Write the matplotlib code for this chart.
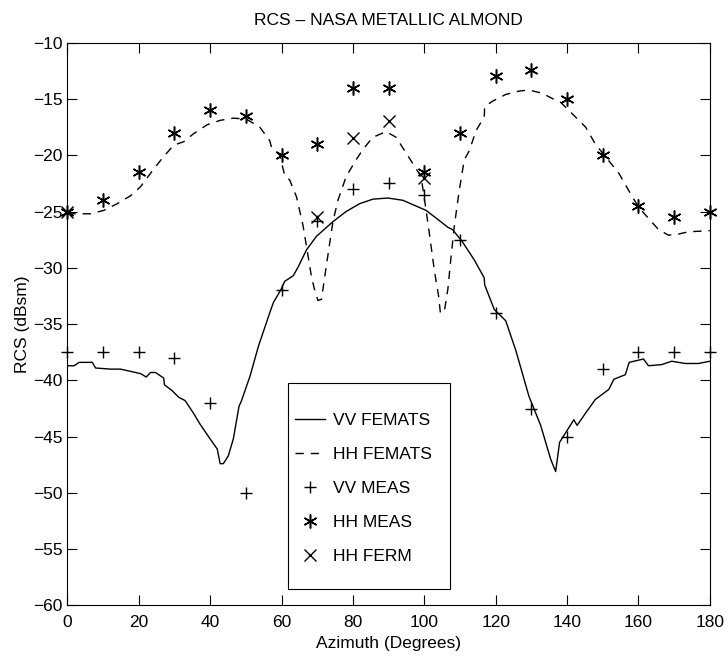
import matplotlib
matplotlib.use("Agg")
import matplotlib.pyplot as plt
from matplotlib.patches import Rectangle

plt.rcParams['font.family'] = ['Liberation Sans', 'DejaVu Sans']

# VV FEMATS (solid curve)
vv_fem_az = [0, 1.9, 3.3, 7, 7.9, 12.1, 14.9, 20.5, 22.1, 23.3, 24.7, 27, 27.2, 29.3,
             31.2, 33, 35.3, 37.2, 40, 42, 42.8, 43.7, 45.1, 46.5, 48.1, 48.8, 51.2,
             53.5, 56.7, 57.7, 59.9, 60.9, 63.3, 64.7, 67, 69.8, 74.4, 78.1, 81.9,
             85.6, 89.8, 94, 100.5, 104.2, 106.6, 107.9, 110.7, 114, 116.8, 116.9,
             119.6, 122.8, 125.6, 129.3, 132.6, 135.4, 136.8, 137.9, 140.5, 141.9,
             142.8, 145.2, 147.9, 151.7, 153.1, 156.3, 157.4, 161.4, 162.8, 166.5,
             169.3, 173.1, 176.8, 180]
vv_fem_rcs = [-38.7, -38.7, -38.4, -38.4, -38.9, -39.0, -39.0, -39.4, -39.7, -39.3,
              -39.3, -39.8, -40.4, -40.9, -41.5, -41.8, -42.9, -43.9, -45.2, -46.1,
              -47.4, -47.4, -46.7, -45.2, -42.3, -41.8, -39.6, -37.0, -34.0, -33.1,
              -31.9, -31.2, -30.7, -29.9, -28.4, -27.2, -25.9, -25.0, -24.3, -23.9,
              -23.8, -24.0, -24.9, -25.8, -26.4, -26.6, -27.7, -29.3, -30.9, -31.5,
              -33.7, -34.7, -37.3, -41.4, -44.0, -47.0, -48.1, -45.5, -44.2, -43.5,
              -44.0, -42.9, -41.7, -40.8, -39.9, -39.5, -38.4, -38.1, -38.7, -38.6,
              -38.3, -38.5, -38.5, -38.3]

# HH FEMATS (dashed curve)
hh_fem_az = [0, 6.5, 10.2, 14, 17.7, 20.5, 23.3, 26.5, 29.8, 32.6, 35.3, 39.1, 42.8,
             46.5, 50.2, 53.9, 56.7, 57.2, 59.5, 60.9, 62.3, 64.2, 66, 67, 68.4, 69.3,
             70.2, 71.2, 72.1, 73.5, 74.4, 75.8, 78.1, 80.9, 83, 85.6, 89.3, 92.1,
             95.9, 99.1, 100.5, 101.4, 102.8, 104, 104.5, 105.6, 106.6, 107.5, 108.4,
             109.8, 111.2, 112.6, 114.5, 116.8, 116.9, 119.1, 122.8, 126.5, 129.3,
             133.1, 137.3, 138.2, 141.4, 145.2, 147.9, 150.7, 154.5, 157.2, 160,
             162.8, 165.6, 168.4, 171.2, 174, 180]
hh_fem_rcs = [-25.2, -25.2, -24.9, -24.3, -23.6, -22.8, -21.6, -20.3, -19.1, -18.8,
              -18.1, -17.3, -16.9, -16.7, -16.8, -17.5, -18.7, -19.3, -20.0, -21.8,
              -22.2, -23.7, -26.2, -28.1, -30.8, -32.0, -32.9, -32.8, -30.8, -27.8,
              -25.9, -24.0, -21.9, -20.4, -19.4, -18.4, -17.9, -18.4, -20.3, -21.9,
              -24.9, -26.9, -30.2, -32.5, -34.0, -33.9, -31.9, -29.0, -26.3, -23.1,
              -20.4, -19.6, -17.8, -16.6, -15.7, -15.2, -14.6, -14.3, -14.2, -14.5,
              -15.2, -15.3, -16.3, -17.5, -19.0, -20.1, -21.6, -23.1, -24.6, -25.6,
              -26.6, -27.1, -27.0, -26.8, -26.7]

# measured / FERM points
meas_az = [0, 10, 20, 30, 40, 50, 60, 70, 80, 90, 100, 110, 120, 130, 140, 150, 160, 170, 180]
vv_meas = [-37.5, -37.5, -37.5, -38.0, -42.0, -50.0, -32.0, -25.8, -23.0, -22.5, -23.5,
           -27.5, -34.0, -42.5, -45.0, -39.0, -37.5, -37.5, -37.5]
hh_meas = [-25.0, -24.0, -21.5, -18.0, -16.0, -16.5, -20.0, -19.0, -14.0, -14.0, -21.5,
           -18.0, -13.0, -12.4, -15.0, -20.0, -24.5, -25.5, -25.0]
ferm_az = [0, 70, 80, 90, 100]
hh_ferm = [-25.0, -25.5, -18.5, -17.0, -22.0]

fig = plt.figure(figsize=(7.28, 6.6), dpi=100)
ax = fig.add_axes([0.0925, 0.0826, 0.8826, 0.8527])

ax.plot(vv_fem_az, vv_fem_rcs, color='black', lw=1.0, label='VV FEMATS')
ax.plot(hh_fem_az, hh_fem_rcs, color='black', lw=1.0, linestyle=(0, (6, 5)), label='HH FEMATS')
ax.plot(meas_az, vv_meas, 'k+', ms=9, mew=1.0, label='VV MEAS', clip_on=False)
# asterisk marker like MATLAB '*'
ax.plot(meas_az, hh_meas, linestyle='none', marker=(6, 2, 0), color='black', ms=10,
        mew=1.1, label='HH MEAS', clip_on=False)
ax.plot(ferm_az, hh_ferm, 'kx', ms=8, mew=1.0, label='HH FERM', clip_on=False)

ax.set_xlim(0, 180)
ax.set_ylim(-60, -10)
ax.set_xticks(range(0, 181, 20))
ax.set_yticks(range(-60, -9, 5))
ax.tick_params(direction='in', top=True, right=True, length=7, labelsize=12.5, width=0.8)
ax.tick_params(axis='x', pad=7)
for s in ax.spines.values():
    s.set_linewidth(0.8)

ax.set_title('RCS \u2013 NASA METALLIC ALMOND', fontsize=12.5, pad=12.5)
ax.set_xlabel('Azimuth (Degrees)', fontsize=12.5, labelpad=4)
ax.set_ylabel('RCS (dBsm)', fontsize=12.5, labelpad=2)

# legend box drawn separately so the padding matches the original
ax.add_patch(Rectangle((0.343, 0.029), 0.252, 0.366, transform=ax.transAxes,
                       facecolor='white', edgecolor='black', lw=0.8, zorder=4))
leg = ax.legend(loc='upper left', bbox_to_anchor=(0.355, 0.342), borderaxespad=0,
                fontsize=12.5, labelspacing=1.09, borderpad=0, handlelength=1.73,
                handletextpad=0.46, frameon=False)
leg.set_zorder(5)

plt.savefig('out.png', dpi=100)
